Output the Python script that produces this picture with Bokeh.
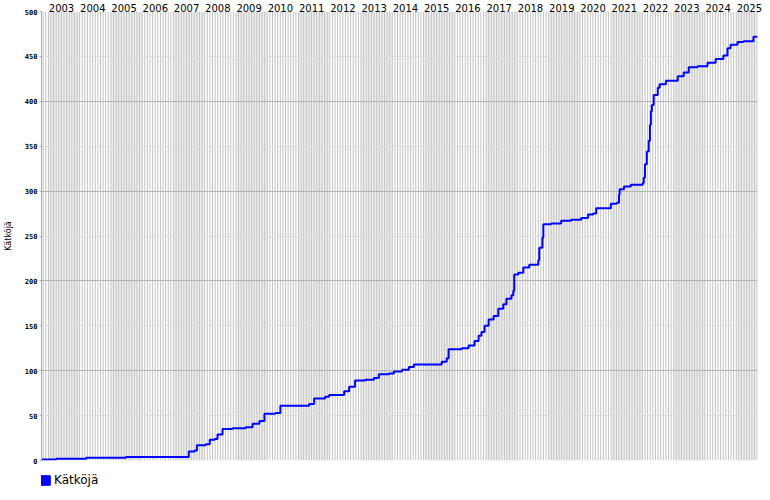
from bokeh.plotting import figure
from bokeh.layouts import column
from bokeh.models import (FixedTicker, Grid, Legend, LegendItem, Range1d,
                          CustomJSTickFormatter)
from bokeh.embed import file_html
from bokeh.resources import INLINE

# cumulative finds ("Kätköjä"), x in decimal years
years = [2002.78, 2002.84, 2003.25, 2004.21, 2005.48, 2007.39, 2007.49, 2007.68,
         2007.75, 2008.03, 2008.16, 2008.32, 2008.41, 2008.57, 2008.89, 2009.31,
         2009.53, 2009.75, 2009.91, 2010.26, 2010.42, 2011.03, 2011.34, 2011.50,
         2011.85, 2011.98, 2012.30, 2012.46, 2012.62, 2012.81, 2013.13, 2013.41,
         2013.57, 2013.89, 2014.05, 2014.31, 2014.53, 2014.69, 2015.36, 2015.58,
         2015.74, 2015.80, 2016.22, 2016.44, 2016.63, 2016.76, 2016.85, 2016.95,
         2017.08, 2017.24, 2017.39, 2017.55, 2017.65, 2017.81, 2017.87, 2017.90,
         2018.03, 2018.19, 2018.38, 2018.67, 2018.70, 2018.80, 2018.83, 2019.08,
         2019.40, 2019.72, 2020.04, 2020.26, 2020.42, 2020.52, 2020.83, 2020.99,
         2021.18, 2021.25, 2021.27, 2021.41, 2021.63, 2022.01, 2022.04, 2022.08,
         2022.14, 2022.20, 2022.24, 2022.27, 2022.30, 2022.36, 2022.49, 2022.55,
         2022.75, 2023.13, 2023.32, 2023.48, 2023.76, 2024.08, 2024.34, 2024.59,
         2024.72, 2024.82, 2025.04, 2025.23, 2025.55, 2025.68]
counts = [1, 1, 2, 3, 4, 4, 10, 11,
          17, 18, 23, 24, 29, 35, 36, 37,
          41, 44, 52, 53, 61, 61, 63, 69,
          71, 73, 73, 77, 82, 89, 90, 92,
          96, 97, 99, 101, 104, 107, 107, 110,
          114, 124, 125, 128, 133, 139, 143, 150,
          157, 161, 169, 174, 180, 184, 189, 207,
          209, 215, 218, 223, 237, 248, 263, 264,
          267, 268, 270, 274, 275, 281, 281, 286,
          287, 296, 302, 305, 307, 309, 315, 330,
          344, 356, 374, 389, 396, 407, 415, 419,
          423, 428, 432, 438, 439, 443, 447, 451,
          459, 463, 466, 467, 472, 472]
year_labels = list(range(2003, 2026))
y_ticks = list(range(0, 501, 50))
series_name = "Kätköjä"

X0, X1 = 2002.78, 2025.68

p = figure(width=770, height=466, x_range=Range1d(X0, X1), y_range=Range1d(0, 500),
           x_axis_location="above", output_backend="svg", toolbar_location=None,
           min_border_left=38, min_border_right=13, min_border_top=10,
           min_border_bottom=6, background_fill_color="white",
           border_fill_color="white")
p.outline_line_color = None

# alternating year bands (odd years grey)
band_l = [max(y, X0) for y in year_labels if y % 2 == 1]
band_r = [min(y + 1, X1) for y in year_labels if y % 2 == 1]
p.quad(left=band_l, right=band_r, bottom=0, top=500, fill_color="#eeeeee",
       line_color=None, level="image")

# monthly lines
months = [y + m / 12 for y in range(2002, 2026) for m in range(12)]
months = [m for m in months if X0 < m < X1]
p.segment(x0=months, y0=0, x1=months, y1=500, line_color="#c2c2c2",
          line_width=1, level="image")

# grids
p.xgrid.visible = False
p.ygrid.ticker = FixedTicker(ticks=[t for t in y_ticks if t % 100 == 0])
p.ygrid.grid_line_color = "#b4b4b4"
g2 = Grid(dimension=1, ticker=FixedTicker(ticks=[t for t in y_ticks if t % 100 == 50]),
          grid_line_color="#dddddd")
p.add_layout(g2)

# data line
p.step(years, counts, mode="after", line_color="#0000ff", line_width=2)

# top axis with year labels
xa = p.xaxis[0]
xa.ticker = FixedTicker(ticks=[y + 0.42 for y in year_labels])
xa.formatter = CustomJSTickFormatter(code="return String(Math.floor(tick));")
xa.axis_line_color = None
xa.major_tick_line_color = None
xa.minor_tick_line_color = None
xa.major_tick_out = 0
xa.major_tick_in = 0
xa.major_label_standoff = 0
xa.major_label_text_font = "DejaVu Sans"
xa.major_label_text_font_size = "10px"
xa.major_label_text_color = "black"

ya = p.yaxis[0]
ya.ticker = FixedTicker(ticks=y_ticks)
ya.axis_line_color = "#aaaaaa"
ya.major_tick_line_color = "#aaaaaa"
ya.major_tick_out = 2
ya.major_tick_in = 0
ya.minor_tick_line_color = None
ya.major_label_standoff = 2
ya.major_label_text_font = "DejaVu Sans Mono"
ya.major_label_text_font_size = "7px"
ya.major_label_text_font_style = "bold"
ya.major_label_text_color = "black"
ya.axis_label = series_name
ya.axis_label_text_font = "DejaVu Sans"
ya.axis_label_text_font_size = "8px"
ya.axis_label_text_font_style = "normal"
ya.axis_label_text_color = "black"
ya.axis_label_standoff = 9

# legend strip below the chart
lg = figure(width=770, height=34, x_range=Range1d(0, 1), y_range=Range1d(0, 1),
            x_axis_location=None, y_axis_location=None, output_backend="svg",
            toolbar_location=None, min_border_left=38, min_border_right=0,
            min_border_top=0, min_border_bottom=0, background_fill_color="white",
            border_fill_color="white")
lg.outline_line_color = None
lg.xgrid.visible = False
lg.ygrid.visible = False
# invisible stand-in renderer (outside the strip's range) that gives the legend its swatch
dummy = lg.quad(left=[-3], right=[-2], top=[-2], bottom=[-3], fill_color="#0000ff",
                line_color="#0000ff")
legend = Legend(items=[LegendItem(label=series_name, renderers=[dummy])],
                location=(-2, 13), border_line_color=None,
                background_fill_alpha=0, padding=0, margin=0,
                glyph_width=12, glyph_height=12,
                label_text_font="DejaVu Sans", label_text_font_size="12px",
                label_text_color="black",
                label_standoff=3, label_height=12)
lg.add_layout(legend)

layout = column(p, lg, spacing=0)
open("out.html", "w").write(file_html(layout, INLINE))
